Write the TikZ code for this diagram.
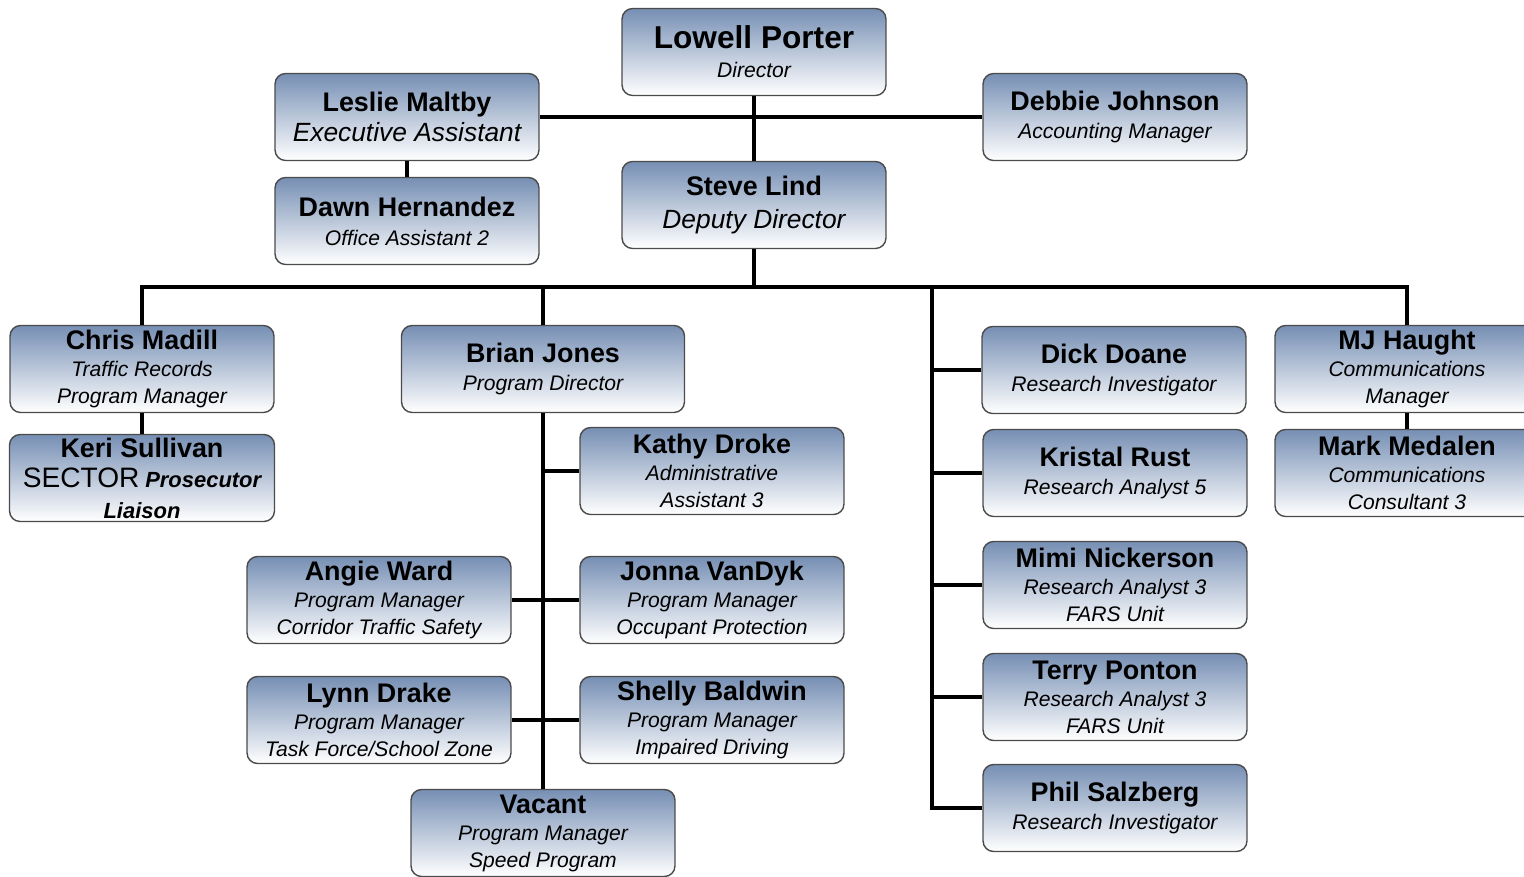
\documentclass[tikz,border=0pt]{standalone}
\usepackage{fontspec}
\setmainfont{Liberation Sans}
\usepackage{tikz}
\usetikzlibrary{positioning}
\definecolor{boxtop}{RGB}{118,143,180}
\definecolor{boxline}{RGB}{75,75,75}
\newcommand{\who}[1]{{\fontsize{15.3}{17.5}\selectfont\bfseries\upshape #1}}

\begin{document}
\begin{tikzpicture}[
  x=0.02cm, y=-0.02cm,
  person/.style={draw=boxline, line width=0.8pt, rounded corners=6pt,
                 top color=boxtop, middle color=boxtop!28, bottom color=white,
                 minimum width=5.28cm, minimum height=1.74cm, inner sep=1pt,
                 align=center, font=\fontsize{12}{15.4}\selectfont\itshape},
  link/.style={line width=2.3pt, black, line join=miter}
]
\useasboundingbox (0,0) rectangle (1524,876);
\clip (0,0) rectangle (1524,876);

% top level
\node[person] (lowell) at (754,52)
  {{\fontsize{18}{20}\selectfont\bfseries\upshape Lowell Porter}\\[1pt]Director};
\node[person] (leslie) at (407,117)
  {\who{Leslie Maltby}\\[2pt]{\fontsize{15}{17}\selectfont Executive Assistant}};
\node[person] (debbie) at (1115,117)
  {\who{Debbie Johnson}\\[1pt]Accounting Manager};
\node[person] (dawn) at (407,221)
  {\who{Dawn Hernandez}\\[1pt]Office Assistant 2};
\node[person] (steve) at (754,205)
  {\who{Steve Lind}\\[3pt]{\fontsize{15}{17}\selectfont Deputy Director}};

% left branch
\node[person] (chris) at (142,369)
  {\who{Chris Madill}\\Traffic Records\\Program Manager};
\node[person, minimum width=5.3cm] (keri) at (142,478)
  {\who{Keri Sullivan}\\[2pt]{\fontsize{16}{17}\selectfont\upshape SECTOR}
   {\fontsize{12.5}{14}\selectfont\bfseries Prosecutor}\\[2pt]
   {\fontsize{12.5}{14}\selectfont\bfseries Liaison}};

% program director branch
\node[person, minimum width=5.66cm] (brian) at (543,369)
  {\who{Brian Jones}\\[1pt]Program Director};
\node[person] (kathy) at (712,471)
  {\who{Kathy Droke}\\Administrative\\Assistant 3};
\node[person] (angie) at (379,600)
  {\who{Angie Ward}\\Program Manager\\Corridor Traffic Safety};
\node[person] (jonna) at (712,600)
  {\who{Jonna VanDyk}\\Program Manager\\Occupant Protection};
\node[person] (lynn) at (379,720)
  {\who{Lynn Drake}\\Program Manager\\Task Force/School Zone};
\node[person] (shelly) at (712,720)
  {\who{Shelly Baldwin}\\Program Manager\\Impaired Driving};
\node[person] (vacant) at (543,833)
  {\who{Vacant}\\Program Manager\\Speed Program};

% research branch
\node[person] (dick) at (1114,370)
  {\who{Dick Doane}\\[1pt]Research Investigator};
\node[person] (kristal) at (1115,473)
  {\who{Kristal Rust}\\[1pt]Research Analyst 5};
\node[person] (mimi) at (1115,585)
  {\who{Mimi Nickerson}\\Research Analyst 3\\FARS Unit};
\node[person] (terry) at (1115,697)
  {\who{Terry Ponton}\\Research Analyst 3\\FARS Unit};
\node[person] (phil) at (1115,808)
  {\who{Phil Salzberg}\\[1pt]Research Investigator};

% communications
\node[person] (mj) at (1407,369)
  {\who{MJ Haught}\\Communications\\Manager};
\node[person] (mark) at (1407,473)
  {\who{Mark Medalen}\\Communications\\Consultant 3};

\coordinate (bus) at (754,287);
\coordinate (rbus) at (932,287);

\draw[link] (lowell.south) -- (steve.north);
\draw[link] (leslie.east) -- (debbie.west);
\draw[link] (leslie.south) -- (dawn.north);
\draw[link] (steve.south) -- (bus);
\foreach \n in {chris, brian, mj}
  \draw[link] (\n.north) |- (bus);
\draw[link] (phil.west) -| (rbus);
\foreach \n in {dick, kristal, mimi, terry}
  \draw[link] (\n.west) -- (\n.west -| rbus);
\draw[link] (chris.south) -- (keri.north);
\draw[link] (mj.south) -- (mark.north);
\draw[link] (brian.south) -- (vacant.north);
\draw[link] (kathy.west) -- (kathy.west -| vacant.north);
\draw[link] (angie.east) -- (jonna.west);
\draw[link] (lynn.east) -- (shelly.west);
\end{tikzpicture}
\end{document}
